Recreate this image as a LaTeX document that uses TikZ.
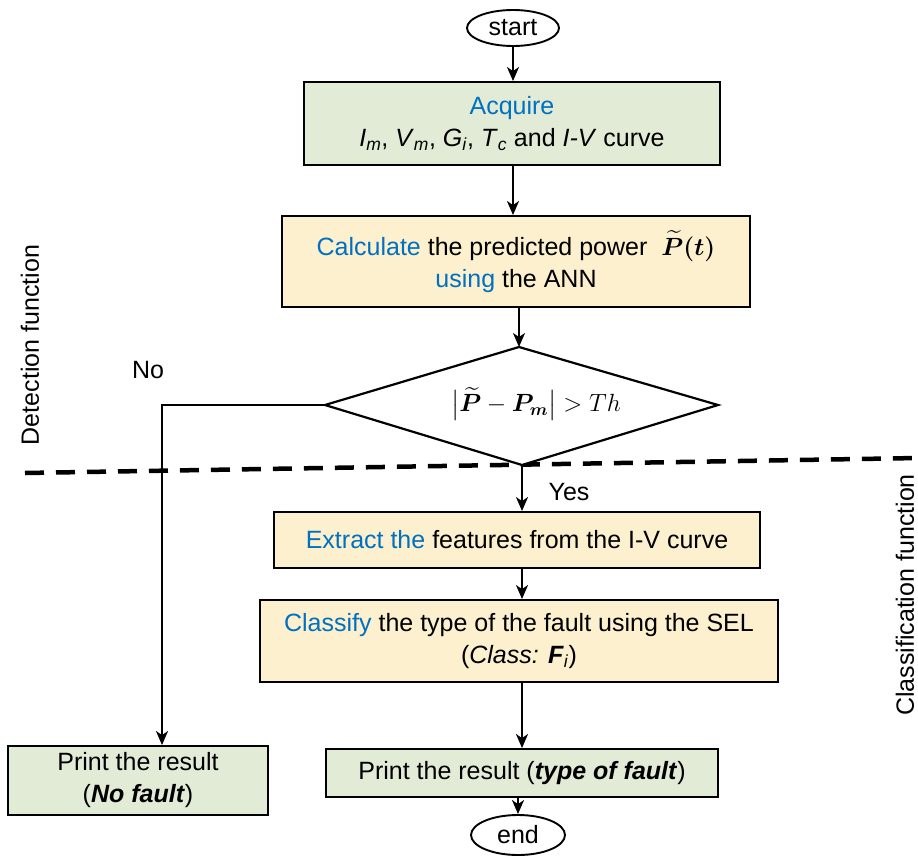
\documentclass[tikz,border=0pt]{standalone}
\usepackage{fontspec}
\setmainfont{Liberation Sans}
\usepackage{amsmath}
\usepackage{bm}
\usetikzlibrary{shapes.geometric,arrows.meta}

\definecolor{boxgreen}{RGB}{226,235,214}
\definecolor{boxyellow}{RGB}{253,240,206}
\definecolor{verbblue}{RGB}{0,112,192}

% coloured action verb
\newcommand\kw[1]{\textcolor{verbblue}{#1}}
% italic quantity with italic subscript
\newcommand\varsub[2]{\textit{#1}\textsubscript{\textit{#2}}}

\begin{document}
\begin{tikzpicture}[x=1pt,y=-1pt,
  txt/.style={font=\fontsize{25}{32}\selectfont},
  base/.style={txt, line width=1.9pt, draw=black, align=center, inner sep=0pt},
  greenbox/.style={base, rectangle, fill=boxgreen},
  yellowbox/.style={base, rectangle, fill=boxyellow},
  terminal/.style={base, ellipse, fill=white},
  outline/.style={line width=2.2pt, draw=black, line join=miter},
  flow/.style={line width=1.9pt, -{Stealth[length=14pt,width=12pt,inset=4pt]}},
  divider/.style={line width=4.5pt, dash pattern=on 19pt off 12pt},
  sidelabel/.style={txt, rotate=90}
]
\useasboundingbox (0,0) rectangle (918,862);

% detection / classification divider
\coordinate (dl) at (25,473);
\coordinate (dr) at (918,458);
\draw[divider] (dl) -- (dr);

\node[sidelabel] (det) at (30,345) {Detection function};
\node[sidelabel] (cls) at (905,595) {Classification function};

% flow nodes
\node[terminal, minimum width=92pt, minimum height=36pt] (start) at (513,28) {start};

\node[greenbox, minimum width=416pt, minimum height=83pt] (acq) at (512,123.5)
  {\kw{Acquire}\\ \varsub{I}{m}, \varsub{V}{m}, \varsub{G}{i}, \varsub{T}{c} and \textit{I-V} curve};

\node[yellowbox, minimum width=468pt, minimum height=91pt] (calc) at (516,261.5)
  {\kw{Calculate} the predicted power\ \ {\boldmath$\widetilde{P}(t)$}\\ \kw{using} the ANN};

% decision diamond: corners as named points, condition in the middle
\coordinate (dtop) at (519,347);
\coordinate (dright) at (718,405);
\coordinate (dbot) at (522,465);
\coordinate (dleft) at (325,405);
\draw[outline, fill=white] (dtop) -- (dright) -- (dbot) -- (dleft) -- cycle;
\node[txt] (dec) at (536,404)
  {$\bigl|\widetilde{\bm{P}}-\bm{P}_{\bm{m}}\bigr| > Th$};

\node[yellowbox, minimum width=486pt, minimum height=56pt] (ext) at (517,540)
  {\kw{Extract the} features from the I-V curve};

\node[yellowbox, minimum width=518pt, minimum height=82pt] (clf) at (519,641)
  {\kw{Classify} the type of the fault using the SEL\\ (\textit{Class:} \textbf{\textit{F}}\textsubscript{\textit{i}})};

\node[greenbox, minimum width=392pt, minimum height=48pt] (res) at (522,773)
  {Print the result (\textbf{\textit{type of fault}})};

\node[terminal, minimum width=94pt, minimum height=40pt] (end) at (518,835) {end};

\node[greenbox, minimum width=260pt, minimum height=69pt] (nof) at (138,780.5)
  {Print the result\\ (\textbf{\textit{No fault}})};

% branch labels
\node[txt] (no) at (148,370) {No};
\node[txt] (yes) at (569,492) {Yes};

% connectors
\draw[flow] (start.south) -- (start.south |- acq.north);
\draw[flow] (acq.south -| start.south) -- (start.south |- calc.north);
\draw[flow] (calc.south -| dtop) -- (dtop);
\draw[flow] (dbot) -- (dbot |- ext.north);
\draw[flow] (ext.south -| dbot) -- (dbot |- clf.north);
\draw[flow] (clf.south -| res.north) -- (res.north);
\draw[flow] (res.south -| end.north) -- (end.north);

\coordinate (bend) at (162,405);
\draw[flow] (dleft) -- (bend) -- (bend |- nof.north);
\end{tikzpicture}
\end{document}
